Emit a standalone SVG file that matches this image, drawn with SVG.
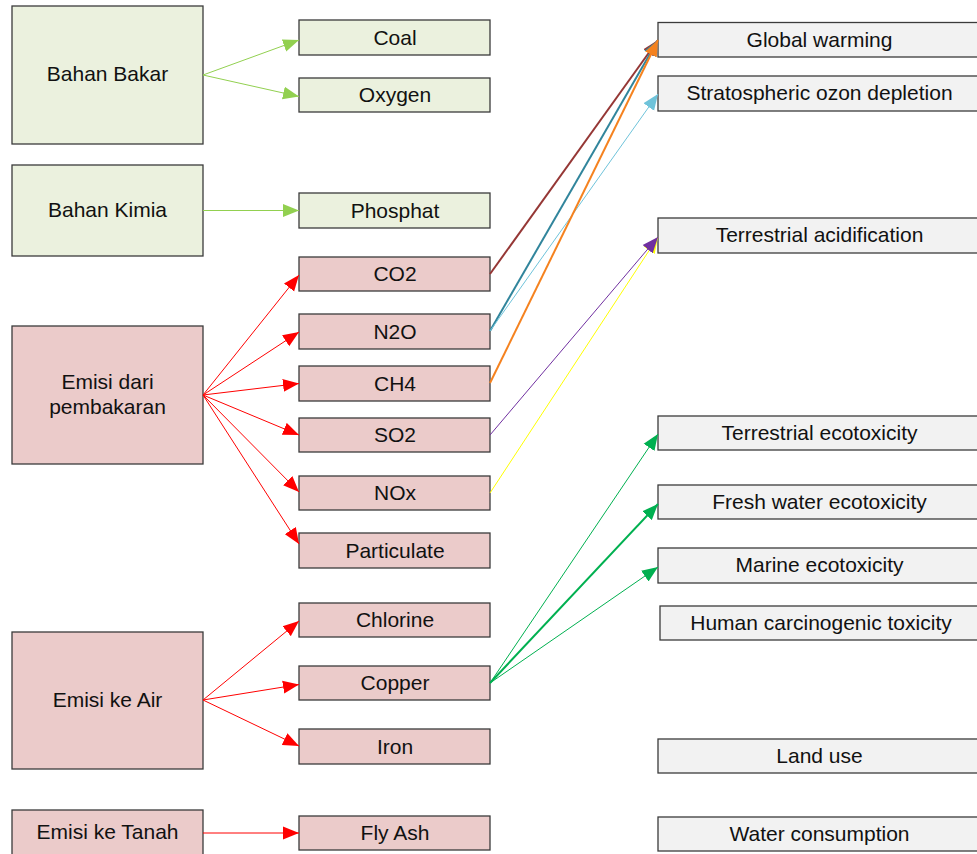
<svg xmlns="http://www.w3.org/2000/svg" width="977" height="854" viewBox="0 0 977 854">
  <defs>
    <style>
      .box { stroke: #3b3b3b; stroke-width: 1.3; }
      .src { fill: #EBF1DE; }
      .emi { fill: #EBCBCA; }
      .imp { fill: #F2F2F2; }
      text { font-family: "Liberation Sans", Arial, sans-serif; font-size: 21px; fill: #111; text-anchor: middle; }
      .c { fill: none; }
    </style>
    <marker id="m-lg" markerUnits="userSpaceOnUse" markerWidth="17" markerHeight="14" refX="16" refY="7" orient="auto"><path d="M0,0.5 L16,7 L0,13.5 z" fill="#92D050"/></marker>
    <marker id="m-red" markerUnits="userSpaceOnUse" markerWidth="17" markerHeight="14" refX="16" refY="7" orient="auto"><path d="M0,0.5 L16,7 L0,13.5 z" fill="#FF0000"/></marker>
    <marker id="m-brown" markerUnits="userSpaceOnUse" markerWidth="17" markerHeight="14" refX="16" refY="7" orient="auto"><path d="M0,0.5 L16,7 L0,13.5 z" fill="#953735"/></marker>
    <marker id="m-teal" markerUnits="userSpaceOnUse" markerWidth="17" markerHeight="14" refX="16" refY="7" orient="auto"><path d="M0,0.5 L16,7 L0,13.5 z" fill="#31859C"/></marker>
    <marker id="m-sky" markerUnits="userSpaceOnUse" markerWidth="17" markerHeight="14" refX="16" refY="7" orient="auto"><path d="M0,0.5 L16,7 L0,13.5 z" fill="#6FC3DA"/></marker>
    <marker id="m-orange" markerUnits="userSpaceOnUse" markerWidth="17" markerHeight="14" refX="16" refY="7" orient="auto"><path d="M0,0.5 L16,7 L0,13.5 z" fill="#F5821F"/></marker>
    <marker id="m-purple" markerUnits="userSpaceOnUse" markerWidth="17" markerHeight="14" refX="16" refY="7" orient="auto"><path d="M0,0.5 L16,7 L0,13.5 z" fill="#7030A0"/></marker>
    <marker id="m-yellow" markerUnits="userSpaceOnUse" markerWidth="17" markerHeight="14" refX="16" refY="7" orient="auto"><path d="M0,0.5 L16,7 L0,13.5 z" fill="#FFFF00"/></marker>
    <marker id="m-green" markerUnits="userSpaceOnUse" markerWidth="17" markerHeight="14" refX="16" refY="7" orient="auto"><path d="M0,0.5 L16,7 L0,13.5 z" fill="#00B050"/></marker>
  </defs>

  <rect width="977" height="854" fill="#ffffff"/>

  <!-- source groups -->
  <g id="bahan-bakar"><rect class="box src" x="12" y="6" width="191" height="138"/><text x="107.5" y="81">Bahan Bakar</text></g>
  <g id="bahan-kimia"><rect class="box src" x="12" y="165" width="191" height="91"/><text x="107.5" y="217">Bahan Kimia</text></g>
  <g id="emisi-pembakaran"><rect class="box emi" x="12" y="326" width="191" height="138"/><text x="107.5" y="389">Emisi dari</text><text x="107.5" y="414">pembakaran</text></g>
  <g id="emisi-air"><rect class="box emi" x="12" y="632" width="191" height="137"/><text x="107.5" y="707">Emisi ke Air</text></g>
  <g id="emisi-tanah"><rect class="box emi" x="12" y="810" width="191" height="50"/><text x="107.5" y="839">Emisi ke Tanah</text></g>

  <!-- substances -->
  <g id="coal"><rect class="box src" x="299" y="20" width="191" height="35"/><text x="395" y="44.5">Coal</text></g>
  <g id="oxygen"><rect class="box src" x="299" y="78" width="191" height="34"/><text x="395" y="102">Oxygen</text></g>
  <g id="phosphat"><rect class="box src" x="299" y="193" width="191" height="35"/><text x="395" y="217.5">Phosphat</text></g>
  <g id="co2"><rect class="box emi" x="299" y="257" width="191" height="34"/><text x="395" y="281">CO2</text></g>
  <g id="n2o"><rect class="box emi" x="299" y="314" width="191" height="35"/><text x="395" y="338.5">N2O</text></g>
  <g id="ch4"><rect class="box emi" x="299" y="366" width="191" height="35"/><text x="395" y="390.5">CH4</text></g>
  <g id="so2"><rect class="box emi" x="299" y="418" width="191" height="34"/><text x="395" y="442">SO2</text></g>
  <g id="nox"><rect class="box emi" x="299" y="476" width="191" height="34"/><text x="395" y="500">NOx</text></g>
  <g id="particulate"><rect class="box emi" x="299" y="533" width="191" height="35"/><text x="395" y="557.5">Particulate</text></g>
  <g id="chlorine"><rect class="box emi" x="299" y="603" width="191" height="34"/><text x="395" y="627">Chlorine</text></g>
  <g id="copper"><rect class="box emi" x="299" y="666" width="191" height="34"/><text x="395" y="690">Copper</text></g>
  <g id="iron"><rect class="box emi" x="299" y="729" width="191" height="35"/><text x="395" y="753.5">Iron</text></g>
  <g id="fly-ash"><rect class="box emi" x="299" y="816" width="191" height="34"/><text x="395" y="840">Fly Ash</text></g>

  <!-- impact categories -->
  <g id="global-warming"><rect class="box imp" x="658" y="22.5" width="324" height="34.5"/><text x="819.5" y="46.5">Global warming</text></g>
  <g id="ozone"><rect class="box imp" x="658" y="76" width="324" height="35"/><text x="819.5" y="100">Stratospheric ozon depletion</text></g>
  <g id="acidification"><rect class="box imp" x="658" y="218" width="324" height="35"/><text x="819.5" y="242">Terrestrial acidification</text></g>
  <g id="terr-ecotox"><rect class="box imp" x="658" y="416" width="324" height="34"/><text x="819.5" y="440">Terrestrial ecotoxicity</text></g>
  <g id="fresh-ecotox"><rect class="box imp" x="658" y="485" width="324" height="34"/><text x="819.5" y="509">Fresh water ecotoxicity</text></g>
  <g id="marine-ecotox"><rect class="box imp" x="658" y="548" width="324" height="35"/><text x="819.5" y="572">Marine ecotoxicity</text></g>
  <g id="human-tox"><rect class="box imp" x="660" y="606" width="324" height="34"/><text x="821" y="630">Human carcinogenic toxicity</text></g>
  <g id="land-use"><rect class="box imp" x="658" y="739" width="324" height="34"/><text x="819.5" y="763">Land use</text></g>
  <g id="water"><rect class="box imp" x="658" y="817" width="324" height="34"/><text x="819.5" y="841">Water consumption</text></g>

  <!-- connectors -->
  <g id="connectors" class="c">
    <line x1="203" y1="75" x2="299" y2="40" stroke="#92D050" stroke-width="1" marker-end="url(#m-lg)"/>
    <line x1="203" y1="75" x2="299" y2="96.5" stroke="#92D050" stroke-width="1" marker-end="url(#m-lg)"/>
    <line x1="203" y1="210.5" x2="299" y2="210.5" stroke="#92D050" stroke-width="1" marker-end="url(#m-lg)"/>

    <line x1="203" y1="395" x2="299" y2="275" stroke="#FF0000" stroke-width="1" marker-end="url(#m-red)"/>
    <line x1="203" y1="395" x2="299" y2="332" stroke="#FF0000" stroke-width="1" marker-end="url(#m-red)"/>
    <line x1="203" y1="395" x2="299" y2="383.5" stroke="#FF0000" stroke-width="1" marker-end="url(#m-red)"/>
    <line x1="203" y1="395" x2="299" y2="435" stroke="#FF0000" stroke-width="1" marker-end="url(#m-red)"/>
    <line x1="203" y1="395" x2="299" y2="492" stroke="#FF0000" stroke-width="1" marker-end="url(#m-red)"/>
    <line x1="203" y1="395" x2="299" y2="544" stroke="#FF0000" stroke-width="1" marker-end="url(#m-red)"/>

    <line x1="203" y1="700" x2="299" y2="621" stroke="#FF0000" stroke-width="1" marker-end="url(#m-red)"/>
    <line x1="203" y1="700" x2="299" y2="684.5" stroke="#FF0000" stroke-width="1" marker-end="url(#m-red)"/>
    <line x1="203" y1="700" x2="299" y2="746" stroke="#FF0000" stroke-width="1" marker-end="url(#m-red)"/>
    <line x1="203" y1="833" x2="299" y2="833" stroke="#FF0000" stroke-width="1" marker-end="url(#m-red)"/>

    <line x1="490" y1="274" x2="658" y2="40" stroke="#953735" stroke-width="2" marker-end="url(#m-brown)"/>
    <line x1="490" y1="331" x2="658" y2="40" stroke="#31859C" stroke-width="2" marker-end="url(#m-teal)"/>
    <line x1="490" y1="331" x2="658" y2="94" stroke="#6FC3DA" stroke-width="1" marker-end="url(#m-sky)"/>
    <line x1="490" y1="383" x2="658" y2="40" stroke="#F5821F" stroke-width="2" marker-end="url(#m-orange)"/>
    <line x1="490" y1="493" x2="658" y2="237" stroke="#FFFF00" stroke-width="1" marker-end="url(#m-yellow)"/>
    <line x1="490" y1="435" x2="658" y2="237" stroke="#7030A0" stroke-width="1" marker-end="url(#m-purple)"/>

    <line x1="490" y1="683" x2="658" y2="434" stroke="#00B050" stroke-width="1" marker-end="url(#m-green)"/>
    <line x1="490" y1="683" x2="658" y2="504" stroke="#00B050" stroke-width="2" marker-end="url(#m-green)"/>
    <line x1="490" y1="683" x2="658" y2="567" stroke="#00B050" stroke-width="1" marker-end="url(#m-green)"/>
  </g>
</svg>
